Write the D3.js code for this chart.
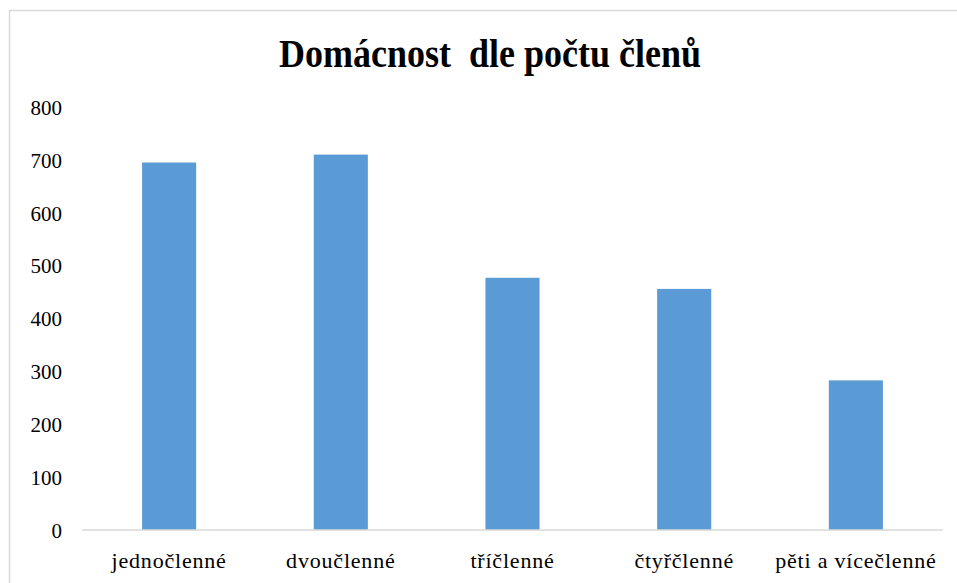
<!DOCTYPE html>
<html>
<head>
<meta charset="utf-8">
<script src="https://cdn.jsdelivr.net/npm/d3@7/dist/d3.min.js"></script>
<style>
  html, body { margin: 0; padding: 0; background: #fff; }
  svg { display: block; }
  svg text { font-family: 'Liberation Serif', 'Times New Roman', serif; }
</style>
</head>
<body>
<svg id="chart" width="957" height="583"></svg>
<script>
const categories = ["jednočlenné", "dvoučlenné", "tříčlenné", "čtyřčlenné", "pěti a vícečlenné"];
const values = [695, 710, 477, 456, 283];
const yTicks = [0, 100, 200, 300, 400, 500, 600, 700, 800];
const title = "Domácnost  dle počtu členů";

(function () {
const svg = d3.select("#chart");
const W = 957, H = 583;
const serif = "'Liberation Serif', 'Times New Roman', serif";

// frame
svg.append("rect").attr("x", 9.5).attr("y", 10.5).attr("width", W).attr("height", H)
  .attr("fill", "#fff").attr("stroke", "#d9d9d9").attr("stroke-width", 1.5);

const pl = 82, pr = 943, pt = 107, pb = 530;
const x = d3.scaleBand().domain(categories).range([pl, pr]).paddingInner(0.685).paddingOuter(0.35);
const y = d3.scaleLinear().domain([0, 800]).range([pb, pt]);

// title
svg.append("text").attr("transform", "translate(490,67) scale(1,1.1)").attr("text-anchor", "middle")
  .style("font-family", serif).attr("font-weight", "bold").attr("font-size", 36)
  .attr("fill", "#000").style("white-space", "pre").text(title);

// bars
svg.append("g").selectAll("rect").data(values).join("rect")
  .attr("x", (d, i) => x(categories[i]))
  .attr("y", d => y(d))
  .attr("width", x.bandwidth())
  .attr("height", d => y(0) - y(d))
  .attr("fill", "#5b9bd5");

// y axis
const yAxis = svg.append("g").attr("transform", `translate(${pl - 20},0)`)
  .call(d3.axisLeft(y).tickValues(yTicks).tickSize(0).tickPadding(0))
  .attr("font-family", serif).attr("font-size", 21);
yAxis.select(".domain").remove();
yAxis.selectAll("text").style("font-family", serif).attr("font-size", 21).attr("fill", "#000")
  .attr("dy", "0.35em");

// x axis
const xAxis = svg.append("g").attr("transform", `translate(0,${pb})`)
  .call(d3.axisBottom(x).tickSize(0).tickPadding(22))
  .attr("font-family", serif).attr("font-size", 22);
xAxis.select(".domain").attr("stroke", "#d9d9d9").attr("stroke-width", 1.5)
  .attr("d", `M${pl},0H${pr}`);
xAxis.selectAll("text").style("font-family", serif).attr("font-size", 22).attr("fill", "#000")
  .style("letter-spacing", "0.8px");
})();
</script>
</body>
</html>
